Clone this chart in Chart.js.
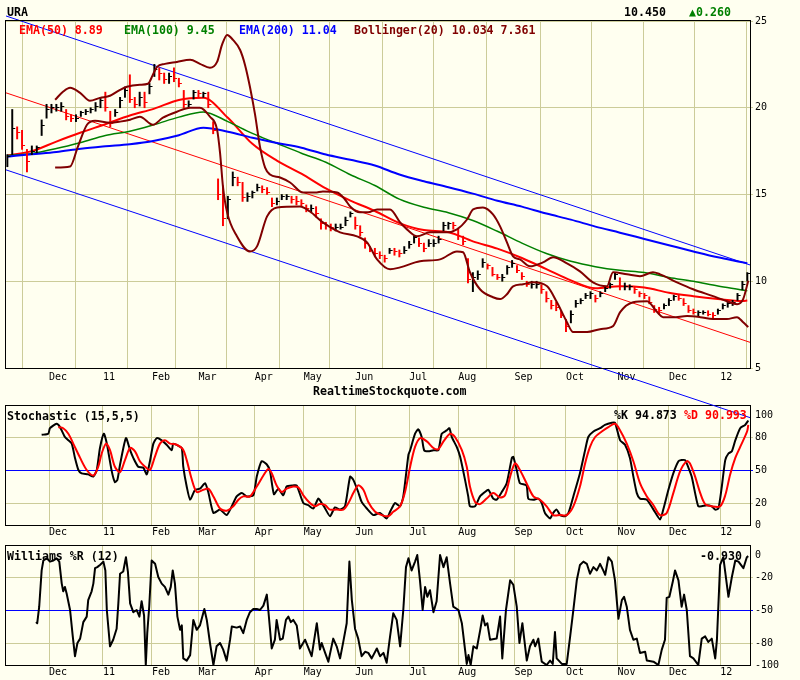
<!DOCTYPE html>
<html>
<head>
<meta charset="utf-8">
<title>URA</title>
<script src="https://cdn.jsdelivr.net/npm/chart.js@4.4.1/dist/chart.umd.min.js"></script>
<style>
  body { margin: 0; background: #fffff0; }
  #wrap { position: relative; width: 800px; height: 680px; overflow: hidden; }
  #wrap canvas { position: absolute; left: 0; top: 0; }
  .t { position: absolute; z-index: 5; font: bold 11.6px 'DejaVu Sans Mono', monospace; line-height: 14px; white-space: pre; color: #000; }
</style>
</head>
<body>
<div id="wrap">
  <canvas id="wr" width="800" height="680" style="z-index:1"></canvas>
  <canvas id="stoch" width="800" height="680" style="z-index:2"></canvas>
  <canvas id="price" width="800" height="680" style="z-index:3"></canvas>

  <div class="t" style="left:7px;top:5px">URA</div>
  <div class="t" style="left:624px;top:5px">10.450</div>
  <div class="t" style="left:689px;top:5px;color:#008000">▲0.260</div>

  <div class="t" style="left:19px;top:23px;color:#ff0000">EMA(50) 8.89</div>
  <div class="t" style="left:124px;top:23px;color:#008000">EMA(100) 9.45</div>
  <div class="t" style="left:239px;top:23px;color:#0000ff">EMA(200) 11.04</div>
  <div class="t" style="left:354px;top:23px;color:#800000">Bollinger(20) 10.034 7.361</div>

  <div class="t" style="left:313px;top:384px">RealtimeStockquote.com</div>

  <div class="t" style="left:7px;top:409px">Stochastic (15,5,5)</div>
  <div class="t" style="left:614px;top:408px">%K 94.873</div>
  <div class="t" style="left:684px;top:408px;color:#ff0000">%D 90.993</div>

  <div class="t" style="left:7px;top:549px">Williams %R (12)</div>
  <div class="t" style="left:700px;top:549px">-0.930</div>
</div>

<script>
// x axis is trading days counted from the first bar (early Nov 2010)
const monthDays = [17, 39, 59, 78, 101, 121, 142, 164, 184, 207, 228, 249, 270, 291];
const monthLabels = ['Dec', '11', 'Feb', 'Mar', 'Apr', 'May', 'Jun', 'Jul', 'Aug', 'Sep', 'Oct', 'Nov', 'Dec', '12'];
const xMin = -0.55, xMax = 303.1;

const priceTicks = [5, 10, 15, 20, 25];
const stochTicks = [0, 20, 50, 80, 100];
const wrTicks = [-100, -80, -50, -20, 0];

// price bars, one every second trading day
const highs = [
  17.3, 19.9, 18.9, 18.7, 17.6, 17.8, 17.8, 19.3, 20.2, 20.2,
  20.2, 20.3, 19.9, 19.6, 19.6, 19.8, 19.9, 20.0, 20.3, 20.6,
  20.9, 19.8, 19.9, 20.6, 21.2, 21.9, 20.6, 20.9, 20.9, 21.4,
  22.5, 22.3, 22.0, 22.0, 22.3, 21.7, 21.0, 20.4, 21.0, 21.0,
  20.9, 20.9, 19.2, 15.9, 15.5, 14.9, 16.3, 16.0, 15.7, 15.1,
  15.2, 15.6, 15.5, 15.4, 14.8, 14.8, 15.0, 15.0, 14.9, 14.9,
  14.7, 14.4, 14.4, 14.3, 13.6, 13.4, 13.3, 13.3, 13.3, 13.7,
  14.0, 13.7, 13.2, 12.5, 12.0, 11.9, 11.7, 11.5, 11.9, 11.9,
  11.8, 12.0, 12.3, 12.6, 12.5, 12.2, 12.4, 12.4, 12.6, 13.4,
  13.4, 13.4, 13.0, 12.6, 11.3, 10.5, 10.6, 11.3, 11.0, 10.8,
  10.4, 10.4, 10.9, 11.2, 10.9, 10.5, 10.0, 10.0, 10.0, 9.8,
  9.4, 8.9, 8.8, 8.3, 7.8, 8.3, 8.9, 9.0, 9.3, 9.4,
  9.2, 9.4, 9.7, 9.9, 10.5, 10.2, 9.9, 9.8, 9.7, 9.4,
  9.3, 9.1, 8.6, 8.5, 8.7, 9.0, 9.2, 9.2, 9.0, 8.6,
  8.4, 8.3, 8.3, 8.3, 8.2, 8.4, 8.7, 8.8, 8.9, 9.3,
  10.0, 10.5
];
const lows = [
  16.6, 17.3, 18.2, 17.6, 16.3, 17.3, 17.4, 18.4, 19.4, 19.7,
  19.8, 19.8, 19.3, 19.2, 19.2, 19.5, 19.6, 19.7, 19.8, 20.0,
  19.8, 18.9, 19.5, 20.0, 20.6, 20.3, 20.0, 20.1, 20.0, 20.8,
  21.8, 21.6, 21.4, 21.4, 21.5, 21.2, 20.0, 20.0, 20.5, 20.6,
  20.6, 20.0, 18.5, 14.7, 13.2, 13.6, 15.5, 15.5, 14.6, 14.6,
  14.8, 15.2, 15.1, 15.0, 14.3, 14.4, 14.7, 14.7, 14.5, 14.4,
  14.3, 14.0, 14.0, 13.7, 13.0, 13.0, 12.9, 12.9, 13.0, 13.2,
  13.7, 13.0, 12.6, 11.9, 11.7, 11.4, 11.3, 11.1, 11.6, 11.5,
  11.4, 11.6, 11.9, 12.2, 12.0, 11.7, 12.0, 12.0, 12.2, 12.9,
  13.0, 13.0, 12.4, 12.1, 9.9, 9.4, 10.1, 10.8, 10.7, 10.3,
  10.1, 10.0, 10.4, 10.8, 10.5, 10.1, 9.7, 9.6, 9.6, 9.3,
  8.8, 8.4, 8.3, 7.9, 7.1, 7.6, 8.5, 8.7, 9.0, 9.0,
  8.8, 9.1, 9.4, 9.6, 10.1, 9.5, 9.5, 9.5, 9.3, 9.1,
  9.0, 8.7, 8.2, 8.1, 8.4, 8.6, 8.9, 8.9, 8.6, 8.2,
  8.1, 8.0, 8.1, 8.0, 7.9, 8.1, 8.4, 8.5, 8.6, 8.9,
  9.5, 10.0
];
const closes = [
  17.2, 18.8, 18.6, 17.8, 16.9, 17.5, 17.7, 19.0, 19.9, 20.0,
  20.0, 20.1, 19.5, 19.4, 19.4, 19.7, 19.8, 19.9, 20.1, 20.4,
  20.0, 19.1, 19.7, 20.4, 21.0, 20.5, 20.2, 20.6, 20.3, 21.2,
  22.2, 22.0, 21.6, 21.8, 21.7, 21.4, 20.2, 20.2, 20.9, 20.8,
  20.8, 20.2, 18.7, 15.0, 13.6, 14.7, 16.0, 15.7, 14.8, 14.9,
  15.1, 15.4, 15.3, 15.1, 14.5, 14.6, 14.9, 14.9, 14.7, 14.6,
  14.5, 14.2, 14.2, 13.9, 13.3, 13.2, 13.1, 13.1, 13.1, 13.5,
  13.9, 13.2, 12.8, 12.2, 11.8, 11.6, 11.5, 11.3, 11.8, 11.7,
  11.6, 11.8, 12.1, 12.5, 12.2, 11.9, 12.2, 12.2, 12.4, 13.2,
  13.3, 13.2, 12.6, 12.3, 10.1, 10.2, 10.4, 11.1, 10.9, 10.4,
  10.2, 10.2, 10.8, 11.0, 10.6, 10.3, 9.8, 9.8, 9.8, 9.5,
  9.0, 8.6, 8.5, 8.0, 7.4, 8.1, 8.7, 8.9, 9.2, 9.3,
  9.0, 9.3, 9.6, 9.8, 10.4, 9.7, 9.7, 9.7, 9.5, 9.3,
  9.2, 8.8, 8.4, 8.3, 8.6, 8.9, 9.1, 9.0, 8.7, 8.3,
  8.2, 8.2, 8.2, 8.1, 8.0, 8.3, 8.6, 8.7, 8.8, 9.2,
  9.8, 10.45
];

// moving averages read every ten days
const emaDays = [0, 10, 20, 30, 40, 50, 60, 70, 80, 90, 100, 110, 120, 130, 140, 150,
  160, 170, 180, 190, 200, 210, 220, 230, 240, 250, 260, 270, 280, 290, 300, 302];
const ema50 = [17.25, 17.5, 18.05, 18.57, 19.05, 19.55, 19.95, 20.45, 20.57, 19.42, 17.92, 16.95, 16.2, 15.35, 14.65, 14.05,
  13.35, 12.95, 12.83, 12.3, 11.88, 11.34, 10.7, 10.05, 9.6, 9.71, 9.64, 9.34, 9.14, 8.98, 8.86, 8.89];
const ema100 = [17.24, 17.37, 17.65, 18.0, 18.4, 18.65, 19.03, 19.46, 19.76, 19.2, 18.52, 17.95, 17.38, 16.86, 16.14, 15.52,
  14.73, 14.26, 13.95, 13.5, 12.88, 12.2, 11.6, 11.15, 10.84, 10.63, 10.5, 10.22, 10.0, 9.73, 9.5, 9.45];
const ema200 = [17.18, 17.32, 17.45, 17.64, 17.78, 17.9, 18.1, 18.42, 18.85, 18.62, 18.27, 17.97, 17.7, 17.3, 17.0, 16.67,
  16.15, 15.76, 15.42, 15.05, 14.64, 14.3, 13.9, 13.55, 13.15, 12.8, 12.44, 12.08, 11.72, 11.38, 11.1, 11.04];

// Bollinger(20) bands
const bbUpperDays = [19.5, 22.7, 25.6, 29.7, 33.7, 37.8, 41.9, 46.0, 48.8, 54.1, 57.4, 59.4, 61.1, 64.3, 69.2,
  74.6, 78.6, 82.7, 85.6, 87.6, 89.7, 92.1, 95.0, 97.0, 99.0, 101.1, 103.1, 105.2, 107.2, 111.3,
  115.4, 120.7, 125.6, 128.8, 134.6, 137.8, 139.9, 143.9, 147.2, 150.9, 156.2, 160.3, 163.1, 167.2, 172.5,
  179.4, 183.5, 187.6, 190.1, 194.1, 198.2, 201.1, 203.9, 206.4, 209.2, 213.3, 218.6, 222.7, 228.4, 233.7,
  239.0, 244.7, 247.2, 252.9, 258.2, 263.5, 266.4, 273.3, 279.9, 288.0, 293.7, 297.8, 300.3, 302.4];
const bbUpper = [20.46, 20.92, 21.15, 20.86, 20.40, 20.57, 20.69, 21.03, 21.21, 21.32, 21.38, 21.90, 22.36, 22.53, 22.64,
  22.76, 22.53, 22.30, 22.64, 23.62, 24.20, 23.91, 23.33, 22.47, 21.21, 19.60, 17.76, 16.55, 16.15, 15.98,
  15.69, 15.11, 15.11, 15.17, 15.11, 14.71, 14.31, 13.97, 13.97, 14.14, 14.14, 13.39, 12.99, 12.59, 12.82,
  12.82, 12.99, 13.56, 14.14, 14.25, 13.85, 13.16, 12.24, 11.44, 11.26, 10.86, 11.09, 11.38, 11.03, 10.57,
  9.94, 9.71, 10.52, 10.40, 10.29, 10.52, 10.40, 9.94, 9.54, 9.14, 8.85, 8.68, 8.97, 10.03];
const bbLowerDays = [19.5, 25.6, 28.8, 32.5, 35.8, 41.9, 46.0, 50.1, 54.1, 59.4, 63.5, 69.2, 74.6, 78.6, 82.7,
  85.6, 86.8, 88.0, 89.7, 93.7, 99.0, 101.9, 106.0, 110.1, 119.4, 123.5, 128.8, 135.8, 142.7, 146.8,
  150.9, 156.2, 160.3, 168.4, 176.6, 183.5, 186.0, 188.8, 192.9, 198.2, 201.1, 203.9, 206.4, 210.5, 214.5,
  220.3, 224.3, 228.4, 230.9, 236.6, 241.9, 247.2, 250.1, 255.4, 261.1, 265.2, 267.6, 271.6, 277.4, 282.8,
  288.0, 293.7, 297.8, 300.3, 302.4];
const bbLower = [16.55, 16.61, 17.76, 19.02, 19.25, 19.14, 19.20, 19.31, 19.48, 19.02, 19.43, 19.77, 20.0, 20.0, 19.48,
  18.74, 17.41, 15.46, 13.97, 12.59, 11.72, 12.01, 13.74, 14.25, 14.31, 14.02, 13.39, 12.82, 12.59, 12.24,
  11.26, 10.69, 10.80, 11.15, 11.26, 11.72, 11.67, 10.52, 9.54, 9.08, 8.97, 9.25, 9.71, 9.83, 9.94,
  9.71, 8.79, 7.64, 7.07, 7.07, 7.24, 7.41, 8.22, 8.79, 8.85, 8.22, 7.93, 7.93, 7.99, 7.93,
  7.82, 7.82, 7.93, 7.64, 7.36];

// regression channel end points
const channelDays = [xMin, xMax];
const channelTop = [25.29, 10.94];
const channelMid = [20.86, 6.48];
const channelLow = [16.42, 2.14];

// Stochastic (15,5,5)
const kDays = [14.0, 16.7, 17.4, 20.1, 21.5, 23.5, 24.9, 26.3, 27.6, 29.0, 30.3, 33.0, 35.1, 36.5, 37.8, 39.4, 40.6, 42.6, 43.9, 44.9,
  46.0, 48.4, 50.1, 51.4, 53.4, 55.5, 56.9, 58.2, 59.6, 61.0, 63.0, 65.0, 67.1, 67.7, 69.8, 71.2, 71.8, 73.2, 74.6, 76.6,
  78.6, 80.7, 82.0, 84.1, 86.8, 89.5, 91.6, 93.6, 95.7, 97.7, 100.4, 101.8, 103.8, 105.9, 107.2, 108.8, 110.6, 112.6, 114.0, 116.7,
  118.1, 120.8, 122.8, 124.9, 126.9, 128.3, 129.7, 131.7, 133.7, 135.8, 137.8, 139.9, 141.2, 143.2, 144.6, 146.7, 149.4, 152.1, 154.8, 156.2,
  158.2, 160.3, 161.6, 163.7, 164.4, 166.4, 167.7, 169.1, 170.1, 171.8, 173.9, 175.9, 177.3, 179.3, 180.4, 181.4, 183.4, 184.8, 186.8, 188.1,
  188.8, 190.9, 192.9, 194.9, 196.3, 198.3, 199.7, 201.8, 203.8, 205.9, 206.5, 207.9, 209.2, 211.9, 212.6, 214.7, 216.7, 218.1, 219.4, 221.5,
  222.8, 224.2, 225.6, 227.6, 229.0, 231.0, 233.7, 235.8, 237.1, 239.2, 241.9, 243.9, 246.7, 248.0, 250.1, 252.1, 254.1, 255.5, 256.9, 258.2,
  261.0, 263.7, 266.4, 267.7, 269.8, 271.8, 273.9, 275.2, 276.6, 278.0, 279.3, 280.7, 282.0, 283.4, 285.5, 287.5, 288.9, 290.2, 291.6, 293.0,
  294.3, 295.7, 297.1, 299.1, 301.1, 302.4];
const kValues = [82, 83, 88, 92, 89, 80, 77, 74, 61, 50, 47, 46, 44, 50, 70, 83, 74, 49, 39, 41,
  55, 79, 68, 61, 53, 52, 46, 58, 74, 79, 77, 73, 68, 74, 72, 70, 53, 35, 23, 32,
  33, 38, 30, 11, 14, 9, 17, 26, 29, 26, 27, 44, 58, 55, 49, 28, 33, 27, 35, 36,
  36, 20, 18, 15, 24, 20, 15, 8, 16, 14, 17, 44, 41, 30, 21, 15, 9, 11, 6, 12,
  20, 17, 26, 64, 68, 83, 87, 80, 68, 67, 68, 68, 83, 86, 88, 80, 71, 62, 41, 26,
  17, 17, 26, 30, 32, 24, 23, 30, 38, 61, 62, 50, 38, 36, 24, 23, 24, 20, 11, 6,
  11, 14, 9, 8, 11, 26, 47, 68, 80, 85, 88, 91, 93, 93, 77, 73, 61, 44, 29, 24,
  23, 14, 5, 14, 32, 47, 58, 59, 59, 52, 44, 29, 17, 17, 18, 17, 14, 15, 35, 59,
  65, 67, 77, 88, 91, 95];
const dDays = [20.8, 22.8, 24.9, 26.9, 29.7, 32.4, 35.1, 37.1, 38.5, 40.3, 41.9, 43.9, 46.0, 48.0, 50.1, 52.1, 54.1, 56.2, 58.2, 60.2,
  62.3, 64.3, 66.4, 69.1, 71.6, 73.2, 75.2, 77.3, 80.0, 82.0, 84.1, 86.8, 89.5, 92.2, 94.3, 96.3, 99.0, 101.8, 104.5, 106.5,
  107.9, 109.9, 112.0, 114.0, 116.7, 118.8, 120.8, 123.5, 125.6, 127.6, 129.7, 131.7, 134.4, 137.1, 139.2, 141.2, 143.2, 145.3, 147.3, 150.1,
  152.8, 155.5, 157.5, 160.3, 162.3, 164.4, 166.4, 168.5, 171.2, 173.9, 175.9, 178.0, 180.7, 182.7, 185.5, 187.5, 188.8, 190.9, 192.9, 195.6,
  198.3, 201.1, 203.1, 205.2, 207.2, 209.2, 211.9, 214.7, 217.4, 220.1, 222.8, 225.6, 228.3, 231.0, 233.7, 235.8, 237.8, 239.9, 242.6, 245.3,
  248.0, 250.1, 252.8, 255.5, 258.2, 261.0, 263.7, 266.4, 269.1, 271.8, 274.6, 277.3, 278.6, 280.7, 282.8, 284.8, 287.5, 290.9, 293.0, 295.0,
  297.1, 299.1, 301.9, 302.4];
const dValues = [89, 88, 83, 74, 61, 50, 45, 53, 65, 74, 68, 53, 48, 59, 70, 67, 58, 53, 50, 62,
  74, 77, 74, 73, 69, 59, 42, 30, 32, 33, 26, 15, 13, 17, 23, 26, 26, 35, 45, 51,
  47, 36, 30, 33, 35, 34, 27, 20, 17, 19, 18, 14, 14, 14, 20, 29, 36, 32, 21, 12,
  9, 8, 12, 17, 30, 53, 71, 79, 76, 70, 69, 76, 83, 80, 68, 53, 35, 21, 19, 24,
  29, 25, 27, 44, 56, 50, 38, 26, 23, 17, 9, 9, 9, 17, 35, 56, 71, 80, 85, 89,
  92, 86, 74, 58, 38, 26, 18, 9, 11, 29, 49, 58, 56, 44, 29, 19, 17, 17, 27, 46,
  61, 71, 85, 91];

// Williams %R (12)
const wrDays = [11.7, 12.2, 13.0, 14.0, 14.7, 16.1, 17.4, 18.8, 20.1, 21.2, 22.2, 22.8, 23.5, 24.2, 25.6, 26.7, 27.6, 28.6, 29.7, 31.0,
  32.4, 33.0, 34.4, 35.1, 35.8, 36.7, 37.8, 39.2, 40.0, 40.6, 41.9, 43.2, 44.6, 45.3, 46.0, 47.3, 48.4, 49.2, 50.1, 51.4,
  52.8, 53.9, 54.8, 55.8, 56.5, 57.1, 57.9, 58.9, 60.3, 61.6, 63.0, 64.3, 65.7, 66.7, 67.5, 68.4, 69.4, 70.5, 71.2, 71.8,
  73.2, 74.6, 75.9, 77.3, 78.6, 80.4, 81.4, 82.7, 84.1, 85.4, 86.8, 88.1, 89.5, 90.9, 91.6, 93.6, 95.0, 96.3, 97.7, 99.0,
  100.4, 101.8, 103.1, 104.5, 105.9, 106.5, 107.9, 109.2, 109.9, 111.3, 112.4, 113.7, 114.7, 115.7, 116.7, 118.1, 119.4, 121.5, 124.2, 126.3,
  127.6, 128.3, 129.7, 131.0, 133.0, 134.4, 135.8, 137.1, 138.5, 139.6, 140.6, 141.9, 143.2, 144.6, 146.0, 147.3, 148.7, 150.8, 152.1, 153.5,
  154.8, 156.2, 157.5, 158.9, 160.3, 161.6, 162.7, 163.7, 165.0, 166.4, 167.3, 168.4, 169.5, 170.5, 171.4, 172.5, 173.9, 175.2, 176.6, 178.0,
  179.3, 180.7, 182.0, 184.1, 185.5, 186.8, 187.5, 188.2, 189.1, 190.2, 191.6, 193.0, 194.0, 195.0, 195.9, 197.0, 199.7, 201.1, 202.0, 203.5,
  205.2, 206.5, 207.9, 209.0, 210.2, 212.0, 213.3, 214.7, 215.4, 216.7, 218.1, 220.1, 221.5, 222.6, 223.5, 224.2, 226.3, 228.3, 229.7, 231.0,
  232.4, 233.7, 235.1, 236.5, 237.8, 239.2, 240.6, 241.9, 243.2, 244.0, 245.3, 246.7, 248.0, 249.4, 250.8, 251.7, 252.8, 254.1, 255.5, 256.9,
  258.2, 260.3, 261.0, 263.7, 265.7, 267.1, 268.4, 269.1, 270.2, 271.6, 272.5, 273.9, 275.2, 276.2, 277.3, 278.6, 280.0, 282.0, 283.4, 284.8,
  286.1, 287.5, 288.9, 289.6, 290.9, 292.2, 294.3, 295.7, 297.1, 298.4, 300.4, 301.8, 302.4];
const wrValues = [-61, -62, -47, -14, -5, -3, -6, -5, -3, -6, -26, -33, -29, -35, -50, -74, -92, -80, -76, -61,
  -56, -41, -33, -26, -12, -11, -9, -6, -14, -50, -83, -77, -67, -44, -17, -15, -2, -15, -44, -52,
  -50, -56, -42, -55, -100, -71, -47, -5, -8, -20, -26, -29, -36, -29, -14, -26, -56, -68, -64, -94,
  -96, -91, -59, -68, -64, -49, -59, -80, -100, -83, -80, -86, -96, -77, -65, -66, -65, -71, -59, -52,
  -49, -49, -50, -46, -36, -50, -85, -77, -59, -77, -76, -59, -56, -61, -59, -64, -85, -77, -92, -62,
  -86, -80, -89, -97, -76, -83, -94, -79, -62, -6, -41, -67, -76, -92, -88, -89, -94, -85, -92, -89,
  -98, -74, -53, -59, -83, -50, -11, -3, -14, -6, 0, -23, -50, -29, -38, -32, -52, -42, 0, -11,
  -2, -26, -47, -50, -62, -86, -99, -91, -100, -83, -85, -68, -55, -64, -62, -77, -76, -56, -94, -50,
  -23, -27, -47, -80, -62, -96, -83, -77, -83, -76, -97, -100, -96, -99, -70, -94, -99, -99, -74, -50,
  -23, -9, -6, -8, -17, -11, -14, -8, -14, -18, -2, -6, -23, -58, -41, -38, -47, -68, -77, -76,
  -89, -88, -96, -97, -100, -86, -77, -39, -38, -24, -14, -23, -47, -36, -50, -92, -94, -100, -76, -74,
  -79, -76, -94, -77, -9, -2, -38, -20, -5, -6, -12, -2, -1];

Chart.defaults.font.family = "'DejaVu Sans Mono', monospace";
Chart.defaults.font.size = 10;
Chart.defaults.color = '#000';

const GRID = '#cccc99';
const pts = (xs, ys) => xs.map((x, i) => ({ x: x, y: ys[i] }));

// small right-hand tick used as the close mark of a bar
function tickMark(color) {
  const c = document.createElement('canvas');
  c.width = 8; c.height = 1;
  const g = c.getContext('2d');
  g.fillStyle = color;
  g.fillRect(4, 0, 3, 1);
  return c;
}
const tickBlack = tickMark('#000000');
const tickRed = tickMark('#ff0000');

const barDays = closes.map((_, i) => i * 2);
const isDown = closes.map((c, i) => i > 0 && c < closes[i - 1]);

const framePlugin = {
  id: 'frame',
  afterDraw(chart) {
    const a = chart.chartArea, ctx = chart.ctx;
    ctx.save();
    ctx.strokeStyle = '#000';
    ctx.lineWidth = 1;
    ctx.strokeRect(Math.round(a.left) - 0.5, Math.round(a.top) - 0.5,
      Math.round(a.right - a.left) + 1, Math.round(a.bottom - a.top) + 1);
    ctx.restore();
  }
};

function xScale(pad, h) {
  return {
    type: 'linear', min: xMin, max: xMax, offset: false,
    afterBuildTicks: s => { s.ticks = monthDays.map(v => ({ value: v })); },
    afterFit: s => { s.height = h; },
    ticks: { autoSkip: false, maxRotation: 0, align: 'start', padding: pad, callback: (v, i) => monthLabels[i] },
    grid: { color: GRID, drawTicks: false },
    border: { display: false }
  };
}

function yScale(min, max, ticks, gridColor) {
  return {
    type: 'linear', position: 'right', min: min, max: max,
    afterBuildTicks: s => { s.ticks = ticks.map(v => ({ value: v })); },
    afterFit: s => { s.width = 50; },
    ticks: { padding: 2 },
    grid: { color: gridColor, tickLength: 3 },
    border: { display: false }
  };
}

function options(padding, scales) {
  return {
    responsive: false, animation: false, devicePixelRatio: 1, events: [],
    layout: { padding: padding },
    plugins: { legend: { display: false }, tooltip: { enabled: false } },
    scales: scales
  };
}

function line(data, color, width, extra) {
  return Object.assign({ type: 'line', data: data, borderColor: color, borderWidth: width,
    pointRadius: 0, fill: false, tension: 0, borderJoinStyle: 'round' }, extra || {});
}

function levelColor(blue, khaki) {
  return c => c.tick && c.tick.value === blue ? '#0000ff'
    : (c.tick && khaki.indexOf(c.tick.value) >= 0 ? GRID : 'rgba(0,0,0,0)');
}

// price panel (drawn on top so the channel can run past its frame)
new Chart(document.getElementById('price'), {
  type: 'line',
  data: {
    datasets: [
      line(pts(channelDays, channelTop), '#0000ff', 1, { clip: false, order: 7 }),
      line(pts(channelDays, channelLow), '#0000ff', 1, { clip: false, order: 7 }),
      line(pts(channelDays, channelMid), '#ff0000', 1, { order: 7 }),
      line(pts(emaDays, ema200), '#0000ff', 2, { cubicInterpolationMode: 'monotone', order: 6 }),
      line(pts(emaDays, ema100), '#008000', 1.5, { cubicInterpolationMode: 'monotone', order: 6 }),
      line(pts(emaDays, ema50), '#ff0000', 2, { cubicInterpolationMode: 'monotone', order: 6 }),
      {
        type: 'bar',
        data: barDays.map((d, i) => ({ x: d, y: [lows[i], highs[i]] })),
        backgroundColor: isDown.map(r => r ? '#ff0000' : '#000000'),
        barThickness: 1.3,
        order: 4
      },
      {
        type: 'line',
        data: pts(barDays, closes),
        showLine: false,
        pointRadius: 2,
        pointStyle: isDown.map(r => r ? tickRed : tickBlack),
        order: 3
      },
      line(pts(bbUpperDays, bbUpper), '#800000', 2, { cubicInterpolationMode: 'monotone', order: 2 }),
      line(pts(bbLowerDays, bbLower), '#800000', 2, { cubicInterpolationMode: 'monotone', order: 2 })
    ]
  },
  options: options({ left: 6, top: 21, right: 0, bottom: 292 }, {
    x: xScale(3, 20),
    y: yScale(5, 25, priceTicks, GRID)
  }),
  plugins: [framePlugin]
});

// stochastic panel
new Chart(document.getElementById('stoch'), {
  type: 'line',
  data: {
    datasets: [
      line(pts(kDays, kValues), '#000000', 2, { tension: 0.2, order: 2 }),
      line(pts(dDays, dValues), '#ff0000', 2, { tension: 0.3, order: 1 })
    ]
  },
  options: options({ left: 6, top: 406, right: 0, bottom: 140 }, {
    x: xScale(1, 15),
    y: yScale(0, 108.2, stochTicks, levelColor(50, [20, 80]))
  }),
  plugins: [framePlugin]
});

// williams %R panel
new Chart(document.getElementById('wr'), {
  type: 'line',
  data: {
    datasets: [
      line(pts(wrDays, wrValues), '#000000', 2)
    ]
  },
  options: options({ left: 6, top: 546, right: 0, bottom: 0 }, {
    x: xScale(1, 15),
    y: yScale(-100, 8.2, wrTicks, levelColor(-50, [-20, -80]))
  }),
  plugins: [framePlugin]
});
</script>
</body>
</html>
